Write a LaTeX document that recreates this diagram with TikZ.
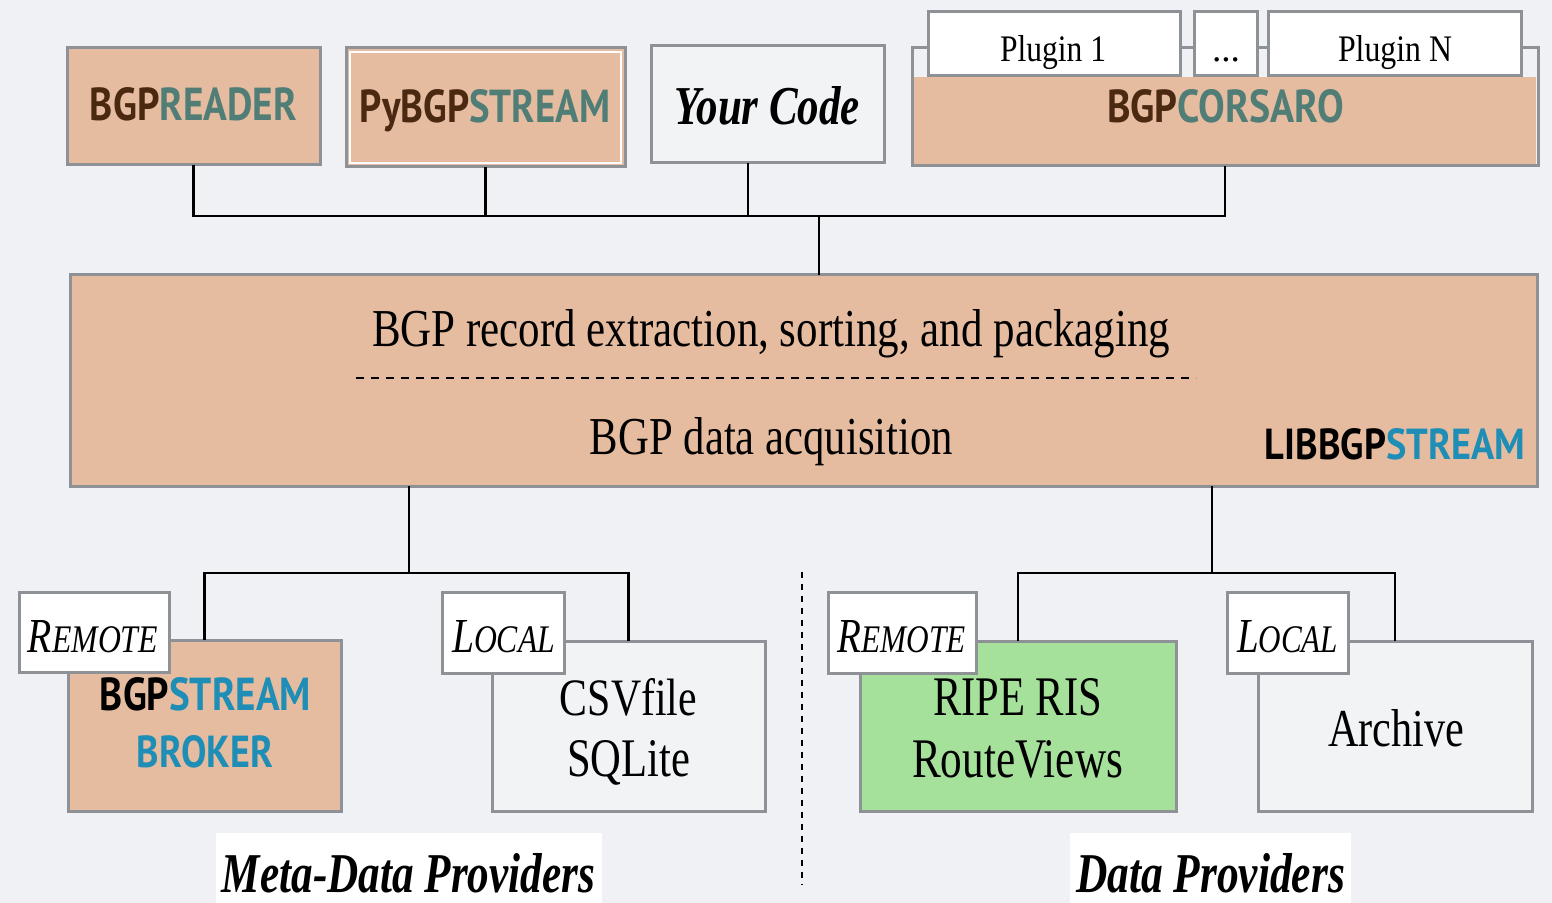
\documentclass[tikz,border=0pt]{standalone}
\usepackage{fontspec}
\usepackage{graphicx}
\setmainfont{Liberation Serif}
\newfontfamily\logofont{PT Sans}
\definecolor{bgc}{RGB}{239,241,244}
\definecolor{salmon}{RGB}{230,188,160}
\definecolor{boxgray}{RGB}{142,145,150}
\definecolor{lightfill}{RGB}{242,243,245}
\definecolor{greenfill}{RGB}{166,225,156}
\definecolor{brownc}{RGB}{75,40,16}
\definecolor{tealc}{RGB}{80,126,119}
\definecolor{bluec}{RGB}{30,142,182}
\newcommand\rs[3]{\resizebox{#1pt}{#2pt}{#3}}
\begin{document}
\begin{tikzpicture}[x=0.5pt,y=-0.5pt,
  box/.style={draw=boxgray,line width=1.5pt,inner sep=0pt,outer sep=0pt},
  lbl/.style={box,fill=white},
  txt/.style={anchor=base,inner sep=0pt,outer sep=0pt},
  conn/.style={draw=black,line width=1.2pt}]
\fill[bgc] (0,0) rectangle (1552,903);
\useasboundingbox (0,0) rectangle (1552,903);
% top boxes
\node[box,fill=salmon,minimum width=126.5pt,minimum height=58.5pt] (reader) at (193.5,106.5) {};
\node[box,fill=salmon,minimum width=139.5pt,minimum height=59.5pt] (pybgp) at (485.5,107.5) {};
\draw[white,line width=0.8pt] (350,52) rectangle (621,163);
\node[box,fill=lightfill,minimum width=116.5pt,minimum height=58.5pt] (yourcode) at (767.5,104.5) {};
\fill[salmon] (914,77) rectangle (1536,165);
\node[box,minimum width=313pt,minimum height=59pt] (corsaro) at (1225,107) {};
\node[lbl,minimum width=126pt,minimum height=32pt] (plugin1) at (1054,44) {};
\node[lbl,minimum width=31.5pt,minimum height=32pt] (dots) at (1225.5,44) {};
\node[lbl,minimum width=126.5pt,minimum height=32pt] (pluginN) at (1394.5,44) {};
% library
\node[box,fill=salmon,minimum width=733.5pt,minimum height=105.5pt] (lib) at (803.5,380.5) {};
\draw[black,line width=1pt,dash pattern=on 4pt off 3.5pt] (356,378) -- (1196,378);
% bottom boxes
\node[box,fill=salmon,minimum width=136.5pt,minimum height=85.5pt] (broker) at (204.5,725.5) {};
\node[box,fill=lightfill,minimum width=136.5pt,minimum height=85pt] (csv) at (628.5,726) {};
\node[box,fill=greenfill,minimum width=158pt,minimum height=85pt] (ripe) at (1018,726) {};
\node[box,fill=lightfill,minimum width=137pt,minimum height=85pt] (archive) at (1395,726) {};
\node[lbl,minimum width=75pt,minimum height=40pt] (remote1) at (94,632) {};
\node[lbl,minimum width=61pt,minimum height=40.5pt] (local1) at (503,632.5) {};
\node[lbl,minimum width=74pt,minimum height=40.5pt] (remote2) at (902,632.5) {};
\node[lbl,minimum width=60.5pt,minimum height=40.5pt] (local2) at (1287.5,632.5) {};
\node[fill=white,inner sep=0pt,minimum width=193pt,minimum height=35pt] (metabg) at (409,868) {};
\node[fill=white,inner sep=0pt,minimum width=140.5pt,minimum height=35pt] (databg) at (1210.5,868) {};
\draw[black,line width=1pt,dash pattern=on 3pt off 3pt] (802,572) -- (802,885);
% connectors
\coordinate (tj) at (819,216);
\coordinate (bl) at (409,573);
\coordinate (br) at (1212,573);
\draw[conn] (reader.south) |- (tj);
\draw[conn] (pybgp.south) |- (tj);
\draw[conn] ([xshift=-9.75pt]yourcode.south) |- (tj);
\draw[conn] (corsaro.south) |- (tj);
\draw[conn] (tj) -- (tj |- lib.north);
\draw[conn] (bl |- lib.south) -- (bl);
\draw[conn] (broker.north) |- (bl);
\draw[conn] (csv.north) |- (bl);
\draw[conn] (br |- lib.south) -- (br);
\draw[conn] (ripe.north) |- (br);
\draw[conn] (archive.north) |- (br);
% texts
\node[txt] (t-reader) at (193.5,121) {\rs{103.5}{16.5}{\logofont\bfseries\color{brownc}BGP\color{tealc}READER}};
\node[txt] (t-pybgp) at (485,123) {\rs{125}{16.5}{\logofont\bfseries\color{brownc}PyBGP\color{tealc}STREAM}};
\node[txt] (t-your) at (767.5,125) {\rs{92.5}{19}{\bfseries\itshape Your Code}};
\node[txt] (t-corsaro) at (1225.5,123) {\rs{118.5}{16.5}{\logofont\bfseries\color{brownc}BGP\color{tealc}CORSARO}};
\node[txt] (t-p1) at (1053,62) {\rs{53}{13}{Plugin 1}};
\node[txt] (t-dots) at (1226,62) {\resizebox{14pt}{!}{...}};
\node[txt] (t-pN) at (1395,62) {\rs{57}{13}{Plugin N}};
\node[txt] (t-line1) at (771,346) {\rs{399}{18.5}{BGP record extraction, sorting, and packaging}};
\node[txt] (t-line2) at (771.5,454) {\rs{181.5}{18.5}{BGP data acquisition}};
\node[txt] (t-lib) at (1395,459) {\rs{130}{15.5}{\logofont\bfseries\color{black}LIBBGP\color{bluec}STREAM}};
\node[txt] (t-rem1) at (93,652) {\rs{65}{16}{\itshape R\footnotesize EMOTE}};
\node[txt] (t-bgps) at (205.5,710) {\rs{105.5}{16.5}{\logofont\bfseries\color{black}BGP\color{bluec}STREAM}};
\node[txt] (t-broker) at (205,767) {\rs{68}{16}{\logofont\bfseries\color{bluec}BROKER}};
\node[txt] (t-loc1) at (503.5,652) {\rs{51.5}{16}{\itshape L\footnotesize OCAL}};
\node[txt] (t-csv) at (628.5,715) {\rs{68.5}{18.5}{CSVfile}};
\node[txt] (t-sql) at (628.5,776) {\rs{61.5}{18}{SQLite}};
\node[txt] (t-meta) at (408.5,892) {\rs{186.5}{19.5}{\bfseries\itshape Meta-Data Providers}};
\node[txt] (t-rem2) at (902,652) {\rs{64}{16}{\itshape R\footnotesize EMOTE}};
\node[txt] (t-ripe) at (1017.5,715) {\rs{84.5}{18.5}{RIPE RIS}};
\node[txt] (t-rv) at (1017.5,777) {\rs{105.5}{18.5}{RouteViews}};
\node[txt] (t-loc2) at (1287.5,652) {\rs{50.5}{16}{\itshape L\footnotesize OCAL}};
\node[txt] (t-arch) at (1396,746) {\rs{68}{18.5}{Archive}};
\node[txt] (t-data) at (1210.5,892) {\rs{134.5}{19.5}{\bfseries\itshape Data Providers}};
\end{tikzpicture}
\end{document}
